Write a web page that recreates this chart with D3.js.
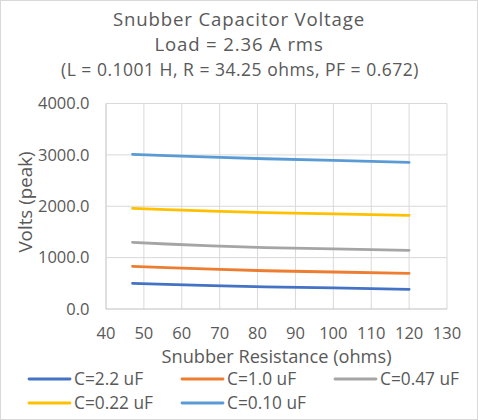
<!DOCTYPE html>
<html><head><meta charset="utf-8">
<script src="https://cdn.jsdelivr.net/npm/d3@7"></script>
<style>body{margin:0;background:#fff}text{font-family:"Open Sans",sans-serif;fill:#595959}</style>
</head><body><svg id="c" width="478" height="420"></svg>
<script>
const resistance = [47, 56, 68, 82, 100, 120];
const seriesNames = ["C=2.2 uF", "C=1.0 uF", "C=0.47 uF", "C=0.22 uF", "C=0.10 uF"];
const v22 = [500, 480, 455, 430, 410, 383];
const v10 = [831, 805, 775, 745, 720, 694];
const v047 = [1298, 1265, 1230, 1195, 1170, 1142];
const v022 = [1959, 1935, 1905, 1875, 1850, 1823];
const v010 = [3010, 2985, 2955, 2925, 2893, 2854];
const xTicks = [40, 50, 60, 70, 80, 90, 100, 110, 120, 130];
const yTicks = [0, 1000, 2000, 3000, 4000];
const colors = ["#4472C4", "#ED7D31", "#A5A5A5", "#FFC000", "#5B9BD5"];
const titleLines = ["Snubber Capacitor Voltage", "Load = 2.36 A rms", "(L = 0.1001 H, R = 34.25 ohms, PF = 0.672)"];
const allSeries = [v22, v10, v047, v022, v010];

const svg = d3.select("#c");
svg.append("rect").attr("x",0.5).attr("y",0.5).attr("width",477).attr("height",419).attr("fill","#fff").attr("stroke","#d9d9d9");
const x = d3.scaleLinear().domain([40,130]).range([106,447]);
const y = d3.scaleLinear().domain([0,4000]).range([309,103.5]);

// grid
svg.append("g").selectAll("line").data(xTicks).join("line")
  .attr("x1",d=>x(d)).attr("x2",d=>x(d)).attr("y1",y(4000)).attr("y2",y(0))
  .attr("stroke",d=>d===40?"#bfbfbf":"#d9d9d9").attr("stroke-width",1);
svg.append("g").selectAll("line").data(yTicks).join("line")
  .attr("x1",x(40)).attr("x2",x(130)).attr("y1",d=>y(d)).attr("y2",d=>y(d))
  .attr("stroke",d=>d===0?"#bfbfbf":"#d9d9d9").attr("stroke-width",1);

// tick labels
svg.append("g").selectAll("text").data(yTicks).join("text")
  .attr("x",89.5).attr("y",d=>y(d)).attr("dy","0.35em").attr("text-anchor","end")
  .attr("font-size",16.5).text(d=>d3.format(".1f")(d));
svg.append("g").selectAll("text").data(xTicks).join("text")
  .attr("x",d=>x(d)).attr("y",333).attr("dy","0.35em").attr("text-anchor","middle")
  .attr("font-size",16.5).text(d=>d);

// lines
const line = d3.line().x((d,i)=>x(resistance[i])).y(d=>y(d));
svg.append("g").selectAll("path").data(allSeries).join("path")
  .attr("d",line).attr("fill","none").attr("stroke",(d,i)=>colors[i]).attr("stroke-width",2.8)
  .attr("stroke-linecap","round");

// titles
svg.append("text").attr("x",239).attr("y",25.5).attr("text-anchor","middle").attr("font-size",18.6).attr("letter-spacing",0.85).text(titleLines[0]);
svg.append("text").attr("x",239).attr("y",51).attr("text-anchor","middle").attr("font-size",18.6).attr("letter-spacing",0.85).text(titleLines[1]);
svg.append("text").attr("x",240).attr("y",75.5).attr("text-anchor","middle").attr("font-size",17.5).attr("letter-spacing",0.5).text(titleLines[2]);

// axis titles
svg.append("text").attr("x",x(85)).attr("y",357).attr("dy","0.35em").attr("text-anchor","middle").attr("font-size",18.2).text("Snubber Resistance (ohms)");
svg.append("text").attr("transform",`translate(25,202) rotate(-90)`).attr("dy","0.35em").attr("text-anchor","middle").attr("font-size",18.8).text("Volts (peak)");

// legend
const legPos = [[29,379],[182,379],[335,379],[29,403],[182,403]];
const lg = svg.append("g").selectAll("g").data(seriesNames).join("g")
  .attr("transform",(d,i)=>`translate(${legPos[i][0]},${legPos[i][1]})`);
lg.append("line").attr("x1",0).attr("x2",41).attr("stroke",(d,i)=>colors[i]).attr("stroke-width",2.8).attr("stroke-linecap","round");
lg.append("text").attr("x",45).attr("dy","0.35em").attr("font-size",17.3).text(d=>d);
</script></body></html>
